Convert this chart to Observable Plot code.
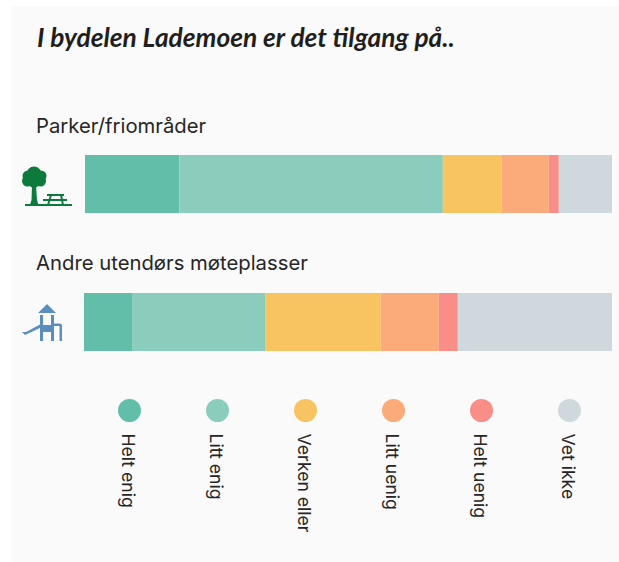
<!DOCTYPE html>
<html lang="no">
<head>
<meta charset="utf-8">
<script src="https://cdn.jsdelivr.net/npm/d3@7"></script>
<script src="https://cdn.jsdelivr.net/npm/@observablehq/plot@0.6"></script>
<style>
  html, body { margin: 0; padding: 0; background: #fff; }
  #page { position: relative; width: 619px; height: 562px; overflow: hidden; font-family: Inter, sans-serif; color: #222; }
  #panel { position: absolute; left: 11px; top: 6px; right: 0; bottom: 0; background: #fafafa; }
  .abs { position: absolute; white-space: nowrap; }
  #title { left: 37px; top: 22px; font-family: Lato, sans-serif; font-size: 26.3px; font-weight: 700; font-style: italic; line-height: 30px; color: #1f1f1f; }
  .label { left: 36px; font-size: 20.3px; line-height: 26px; color: #262626; }
  svg.icon { position: absolute; left: 0; top: 0; }
  .plotbox { position: absolute; left: 0; }
  .plotbox svg { background: transparent; display: block; overflow: visible; }
</style>
</head>
<body>
<div id="page">
  <div id="panel"></div>
  <div class="abs" id="title">I bydelen Lademoen er det tilgang på..</div>
  <div class="abs label" style="top:113px">Parker/friområder</div>
  <div class="abs label" style="top:250px">Andre utendørs møteplasser</div>

  <svg class="icon" width="619" height="562" aria-hidden="true">
    <g fill="#0b7a3c" stroke="none">
      <circle cx="34" cy="174" r="7.500"/><circle cx="28" cy="176" r="5.500"/><circle cx="41" cy="176" r="5.500"/>
      <circle cx="27.500" cy="181" r="5.500"/><circle cx="40.500" cy="181" r="5.500"/><circle cx="34" cy="183" r="5"/>
      <path d="M32 185 L36 185 L37 200 L38.500 205 L30 205 L31.500 200 Z"/>
      <rect x="25" y="204" width="47" height="2"/>
      <rect x="47" y="194" width="17" height="2"/>
      <rect x="43" y="199" width="24" height="2"/>
      <path d="M50 195 L52 195 L49 205 L47 205 Z M60 195 L62 195 L64 205 L62 205 Z"/>
    </g>
    <g fill="#5a8fbd" stroke="none">
      <path d="M47 304 L56 313 L38 313 Z"/>
      <rect x="40" y="315" width="3" height="26"/>
      <rect x="51" y="315" width="3" height="26"/>
      <rect x="40" y="325" width="14" height="7"/>
      <path d="M54 323.500 H60 Q62 323.500 62 326 V341 H59.500 V326 H54 Z"/>
      <path d="M22 332 L25 335 L42 327 L41 324 L26 332 Z"/>
    </g>
  </svg>

  <div class="plotbox" id="row1" style="top:155px"></div>
  <div class="plotbox" id="row2" style="top:293px"></div>
  <div class="plotbox" id="legend" style="top:390px"></div>
</div>

<script>
const answers = ["Helt enig", "Litt enig", "Verken eller", "Litt uenig", "Helt uenig", "Vet ikke"];
const colors  = ["#62bda9", "#8acdbd", "#f8c361", "#fbaa7a", "#f98d87", "#ced8dd"];
const parker  = [17.9, 50.0, 11.2, 8.9, 1.9, 10.1];
const andre   = [9.1, 25.2, 21.9, 11.0, 3.6, 29.2];

const colorScale = { domain: answers, range: colors };

function row(values, marginLeft) {
  const data = answers.map((a, i) => ({ answer: a, value: values[i] }));
  return Plot.plot({
    width: 619, height: 58,
    marginLeft, marginRight: 7, marginTop: 0, marginBottom: 0,
    x: { domain: [0, 100], axis: null },
    color: colorScale,
    marks: [ Plot.barX(data, { x: "value", fill: "answer" }) ]
  });
}

document.getElementById("row1").append(row(parker, 85));
document.getElementById("row2").append(row(andre, 84));

const legend = Plot.plot({
  width: 619, height: 172,
  marginLeft: 128, marginRight: 49, marginTop: 0, marginBottom: 0,
  x: { type: "point", domain: answers, axis: null, padding: 0 },
  color: colorScale,
  style: { fontFamily: "Inter, sans-serif" },
  marks: [
    Plot.dot(answers, { x: d => d, frameAnchor: "top", dy: 20, r: 11.5, fill: d => d }),
    Plot.text(answers, {
      x: d => d, text: d => d, frameAnchor: "top", lineAnchor: "middle", dy: 43, dx: -2,
      rotate: 90, textAnchor: "start", fontSize: 17.6, fill: "#262626"
    })
  ]
});
document.getElementById("legend").append(legend);
</script>
</body>
</html>
